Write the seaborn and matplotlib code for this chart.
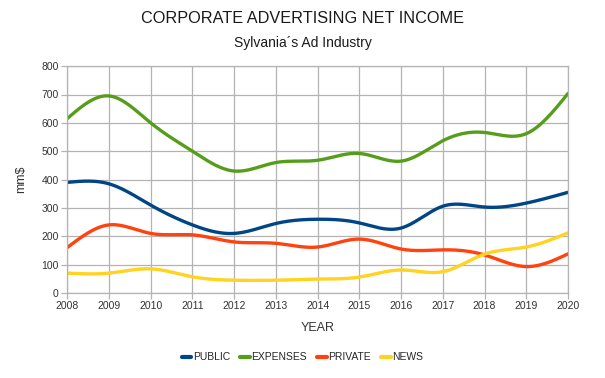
import numpy as np
import pandas as pd
import matplotlib
matplotlib.use("Agg")
import matplotlib.pyplot as plt
import seaborn as sns

years = [2008, 2009, 2010, 2011, 2012, 2013, 2014, 2015, 2016, 2017, 2018, 2019, 2020]
public = [390, 385, 310, 240, 210, 245, 260, 247, 229, 306, 303, 317, 355]
expenses = [615, 695, 600, 500, 430, 460, 468, 492, 465, 537, 566, 562, 704]
private = [160, 240, 210, 205, 180, 175, 162, 190, 155, 152, 134, 93, 138]
news = [70, 70, 85, 57, 45, 45, 49, 56, 81, 75, 137, 162, 212]
series_names = ["PUBLIC", "EXPENSES", "PRIVATE", "NEWS"]
colors = ["#004586", "#579d1c", "#ff420e", "#ffd320"]


def natural_spline(x, y, n=400):
    x = np.asarray(x, float)
    y = np.asarray(y, float)
    k = len(x)
    h = np.diff(x)
    A = np.zeros((k, k))
    b = np.zeros(k)
    A[0, 0] = 1
    A[-1, -1] = 1
    for i in range(1, k - 1):
        A[i, i - 1] = h[i - 1]
        A[i, i] = 2 * (h[i - 1] + h[i])
        A[i, i + 1] = h[i]
        b[i] = 6 * ((y[i + 1] - y[i]) / h[i] - (y[i] - y[i - 1]) / h[i - 1])
    M = np.linalg.solve(A, b)
    xs = np.linspace(x[0], x[-1], n)
    idx = np.clip(np.searchsorted(x, xs) - 1, 0, k - 2)
    x0, x1 = x[idx], x[idx + 1]
    hh = x1 - x0
    ys = (M[idx] * (x1 - xs) ** 3 / (6 * hh) + M[idx + 1] * (xs - x0) ** 3 / (6 * hh)
          + (y[idx] / hh - M[idx] * hh / 6) * (x1 - xs)
          + (y[idx + 1] / hh - M[idx + 1] * hh / 6) * (xs - x0))
    return xs, ys


frames = []
for name, vals in zip(series_names, [public, expenses, private, news]):
    xs, ys = natural_spline(years, vals)
    frames.append(pd.DataFrame({"year": xs, "value": ys, "series": name}))
df = pd.concat(frames, ignore_index=True)

sns.set_theme(style="white")
plt.rcParams["font.family"] = ["Liberation Sans", "DejaVu Sans"]

fig = plt.figure(figsize=(6.05, 3.78), dpi=100)
ax = fig.add_axes([0.111, 0.225, 0.828, 0.60])

sns.lineplot(data=df, x="year", y="value", hue="series", hue_order=series_names,
             palette=colors, linewidth=2.4, ax=ax, sort=False, estimator=None)

ax.set_xlim(2008, 2020)
ax.set_ylim(0, 800)
ax.set_xticks(years)
ax.set_xticklabels([str(y) for y in years], fontsize=7.5, color="#333333")
ax.set_yticks(range(0, 801, 100))
ax.set_yticklabels([str(v) for v in range(0, 801, 100)], fontsize=7.5, color="#333333")
ax.grid(True, color="#b3b3b3", linewidth=0.9)
ax.set_axisbelow(True)
for s in ax.spines.values():
    s.set_color("#b3b3b3")
    s.set_linewidth(0.9)
ax.tick_params(axis="both", length=4, width=0.9, color="#b3b3b3", pad=2)
ax.tick_params(axis="x", direction="out", bottom=True)
ax.tick_params(axis="y", direction="out", left=True)

ax.set_xlabel("YEAR", fontsize=9, color="#333333", labelpad=8)
ax.set_ylabel("mm$", fontsize=9, color="#333333", labelpad=10)

fig.text(0.5, 0.952, "CORPORATE ADVERTISING NET INCOME", ha="center", va="center",
         fontsize=11.7, color="#1a1a1a")
fig.text(0.5, 0.887, "Sylvania\u00b4s Ad Industry", ha="center", va="center",
         fontsize=10, color="#1a1a1a")

handles, labels = ax.get_legend_handles_labels()
for h in handles:
    h.set_linewidth(3)
ax.legend(handles, labels, loc="center", bbox_to_anchor=(0.5, 0.055),
          bbox_transform=fig.transFigure, ncol=4, frameon=False, fontsize=7.5,
          handlelength=0.9, handletextpad=0.15, columnspacing=1.0)

fig.savefig("out.png", dpi=100)
